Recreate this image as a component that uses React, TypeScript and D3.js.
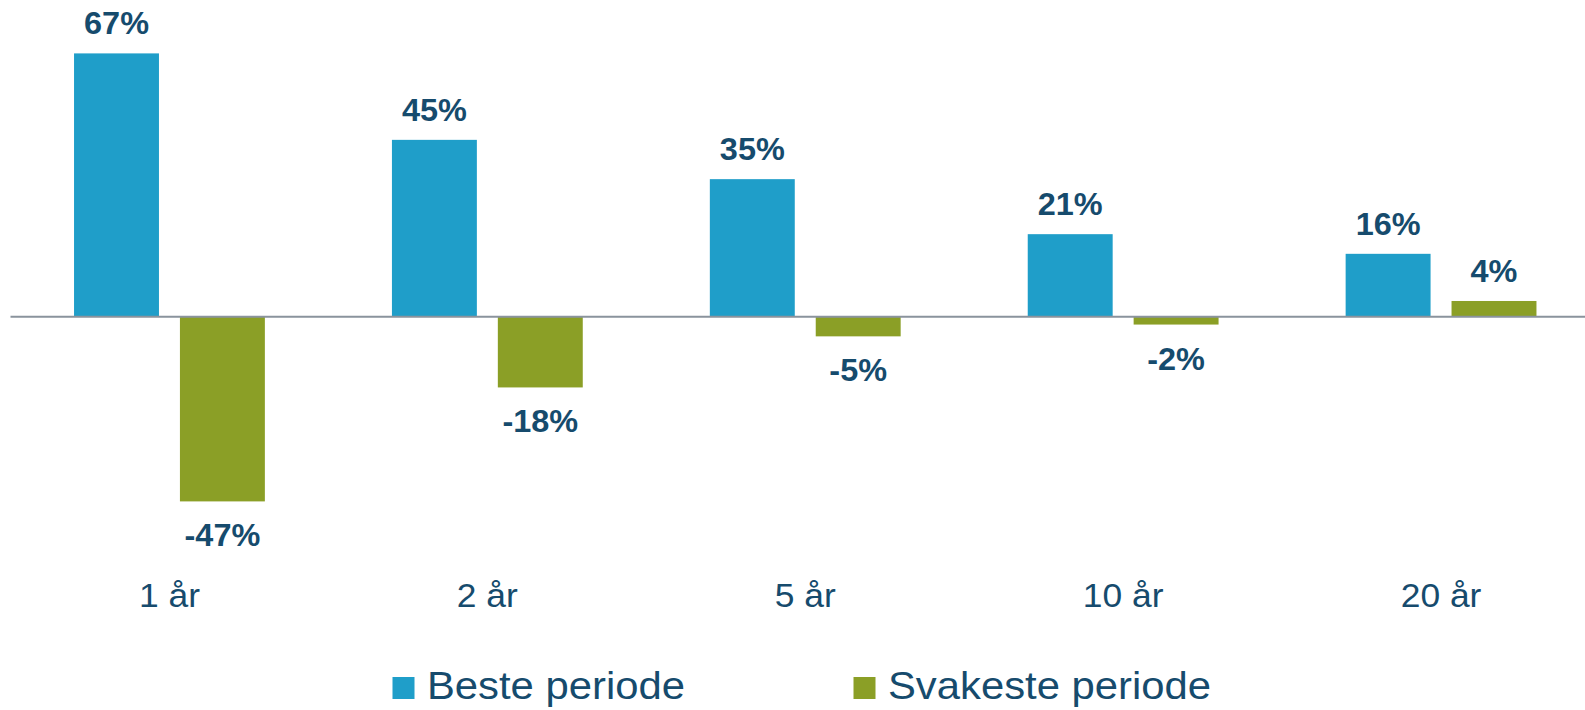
import React from "react";
import * as d3 from "d3";

const categories = ["1 år", "2 år", "5 år", "10 år", "20 år"];
const seriesNames = ["Beste periode", "Svakeste periode"];
const bestValues = [67, 45, 35, 21, 16];
const worstValues = [-47, -18, -5, -2, 4];

const W = 1585;
const H = 710;
const COLORS = ["#1F9EC9", "#8B9F26"];
const TEXT = "#164B6D";
const AXIS = "#8A939D";
const FONT = "'Liberation Sans', Arial, Helvetica, sans-serif";

export default function App() {
  const x = d3.scaleBand<string>().domain(categories).range([10.5, 1600]).padding(0);
  const xs = d3
    .scaleBand<string>()
    .domain(seriesNames)
    .range([0, x.bandwidth()])
    .paddingInner(0.198)
    .paddingOuter(0.6);
  const y = d3.scaleLinear().domain([-47, 67]).range([501.4, 53.4]);
  const y0 = y(0);

  const rows = categories.map((c, i) => ({
    cat: c,
    vals: [bestValues[i], worstValues[i]],
  }));

  const fmt = (v: number) => `${v}%`;

  return (
    <svg
      width={W}
      height={H}
      style={{ position: "absolute", left: 0, top: 0, background: "#fff" }}
      fontFamily={FONT}
    >
      {rows.map((r) => (
        <g key={r.cat} transform={`translate(${x(r.cat)},0)`}>
          {r.vals.map((v, si) => {
            const name = seriesNames[si];
            const bx = xs(name)!;
            const bw = xs.bandwidth();
            const top = Math.min(y(v), y0);
            const h = Math.abs(y(v) - y0);
            const ly = v >= 0 ? y(v) - 19 : y(v) + 45;
            return (
              <g key={name}>
                <rect x={bx} y={top} width={bw} height={h} fill={COLORS[si]} />
                <g transform={`translate(${bx + bw / 2},${ly}) scale(1.03,1)`}>
                  <text
                    x={0}
                    y={0}
                    textAnchor="middle"
                    fontWeight="bold"
                    fontSize={31.5}
                    fill={TEXT}
                  >
                    {fmt(v)}
                  </text>
                </g>
              </g>
            );
          })}
          <g transform={`translate(${x.bandwidth() / 2},607) scale(1.09,1)`}>
            <text x={0} y={0} textAnchor="middle" fontSize={32.5} fill={TEXT}>
              {r.cat}
            </text>
          </g>
        </g>
      ))}
      <line x1={10.5} x2={W} y1={y0} y2={y0} stroke={AXIS} strokeWidth={2} />
      {[
        { sx: 392.5, tx: 427 },
        { sx: 853.5, tx: 888 },
      ].map((p, i) => (
        <g key={seriesNames[i]}>
          <rect x={p.sx} y={677} width={22} height={22} fill={COLORS[i]} />
          <g transform={`translate(${p.tx},699) scale(1.1,1)`}>
            <text x={0} y={0} fontSize={38} fill={TEXT}>
              {seriesNames[i]}
            </text>
          </g>
        </g>
      ))}
    </svg>
  );
}
